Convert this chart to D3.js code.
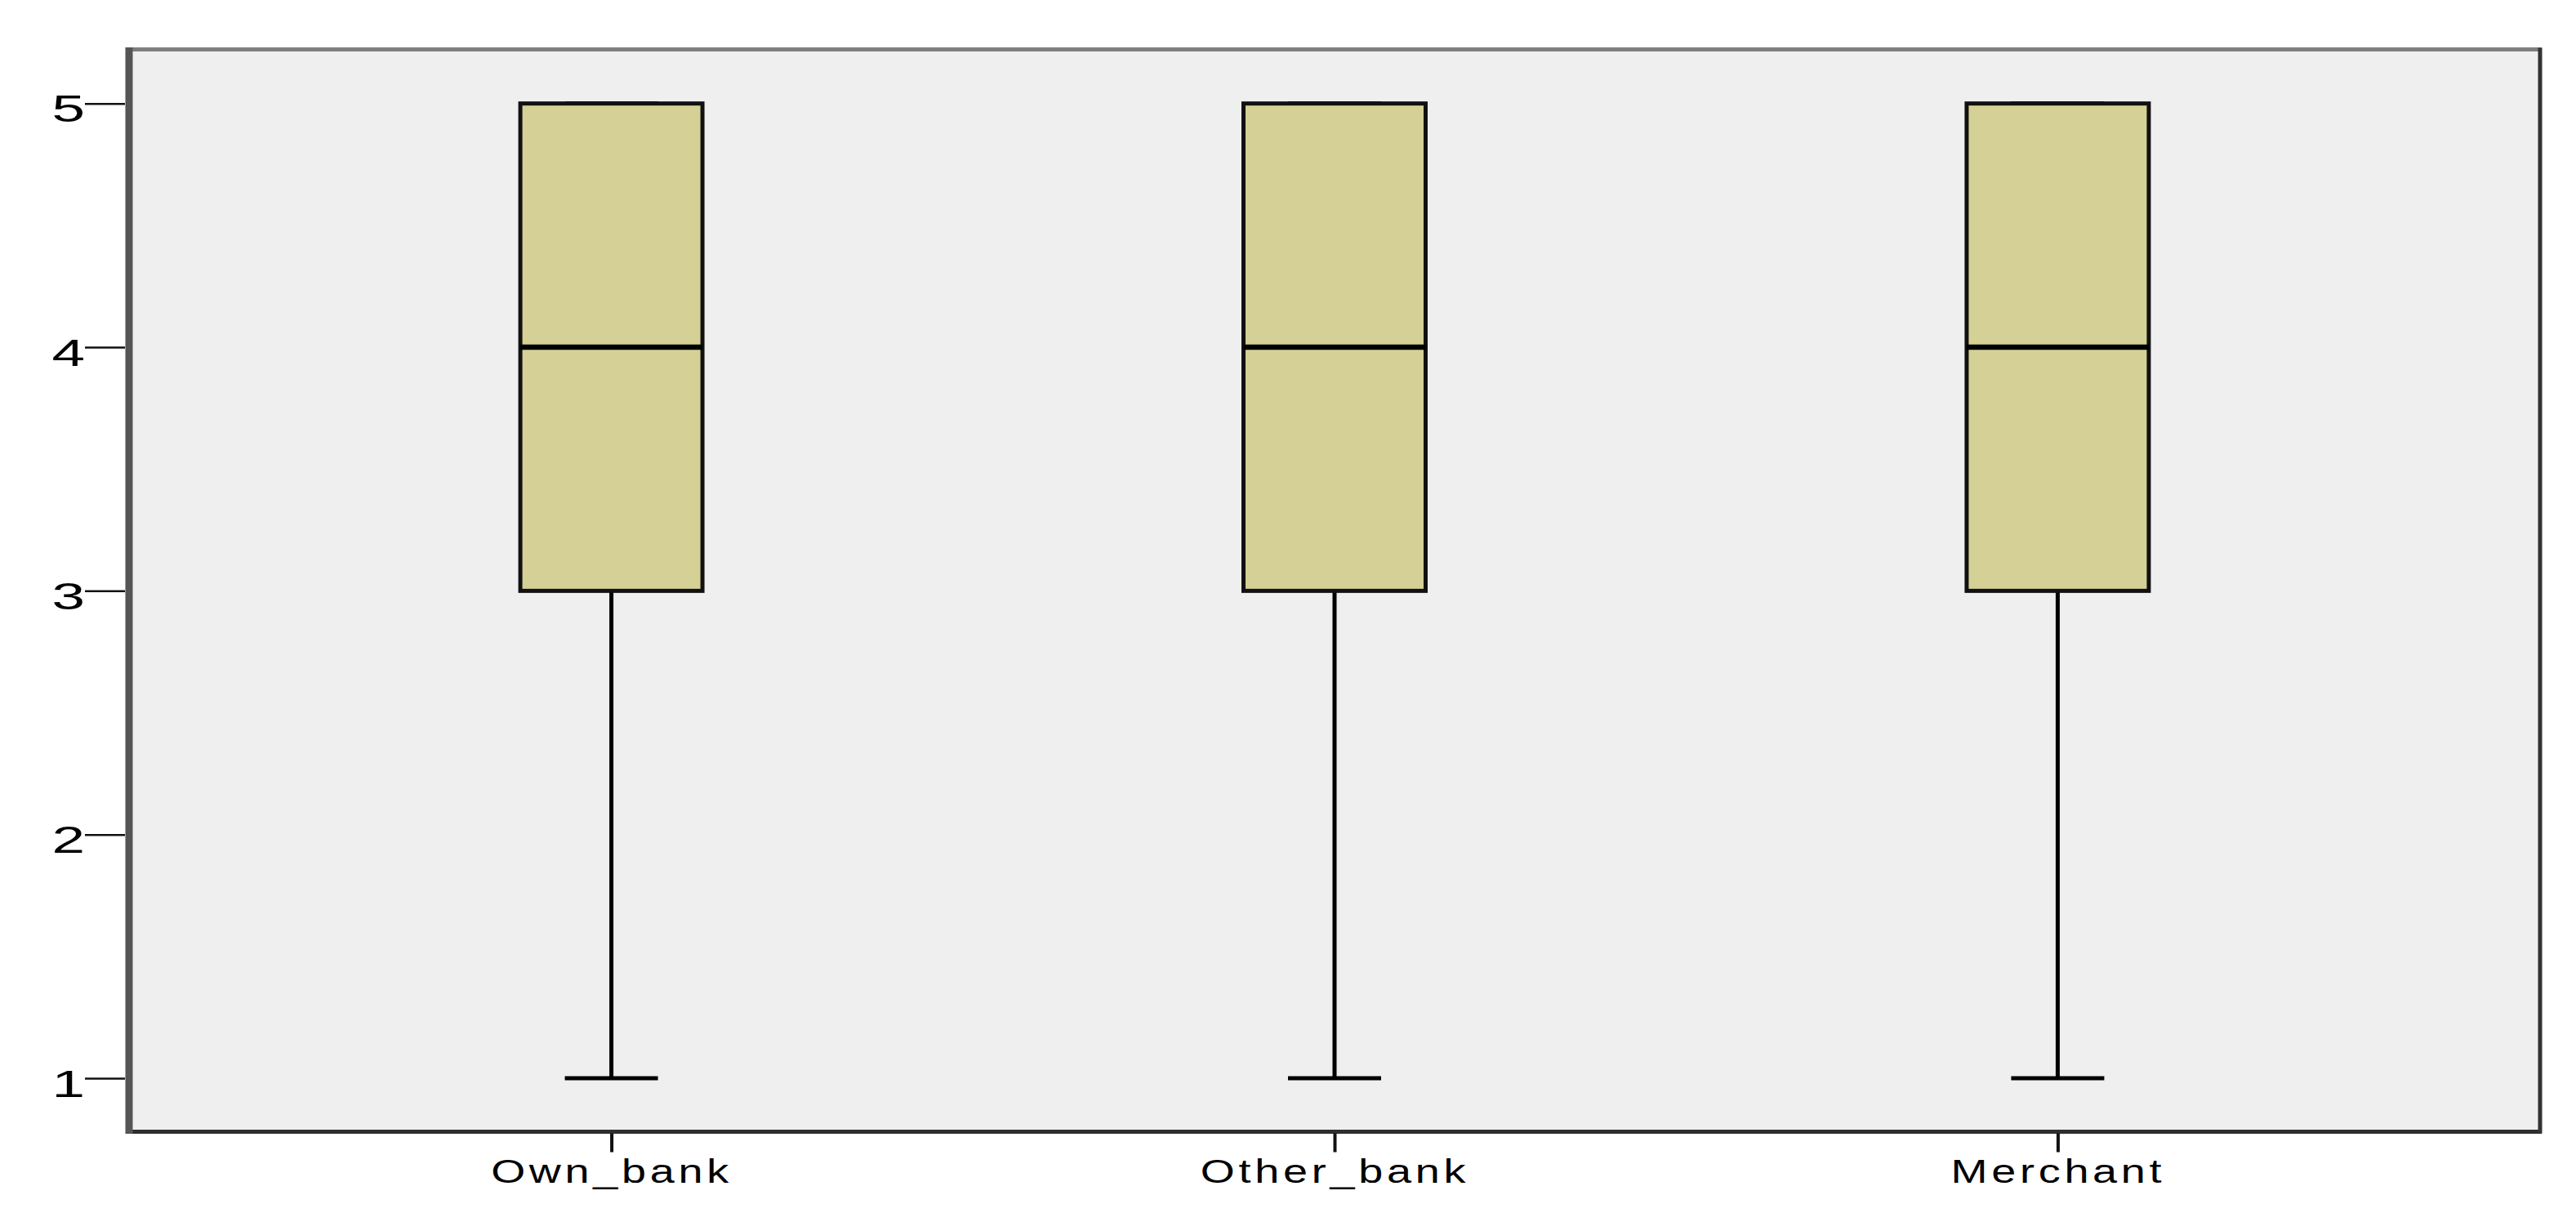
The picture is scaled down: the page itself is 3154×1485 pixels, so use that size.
<!DOCTYPE html>
<html>
<head>
<meta charset="utf-8">
<script src="https://cdn.jsdelivr.net/npm/d3@7"></script>
<style>
  html, body { margin: 0; padding: 0; background: #ffffff; }
  svg { display: block; }
</style>
</head>
<body>
<script>
// ---- Data ----
const categories = ["Own_bank", "Other_bank", "Merchant"];
const whiskerLow = [1, 1, 1];
const q1Values = [3, 3, 3];
const medianValues = [4, 4, 4];
const q3Values = [5, 5, 5];
const whiskerHigh = [5, 5, 5];
const yTickValues = [1, 2, 3, 4, 5];

const W = 3154, H = 1485;
const plot = { left: 158, right: 3110, top: 60.5, bottom: 1385.5 };

const svg = d3.select("body").append("svg").attr("width", W).attr("height", H);

const x = d3.scalePoint().domain(categories).range([plot.left, plot.right]).padding(0.667);
const y = d3.scaleLinear().domain([1, 5]).range([1320, 126.7]);

// plot background
svg.append("rect")
  .attr("x", plot.left).attr("y", plot.top)
  .attr("width", plot.right - plot.left).attr("height", plot.bottom - plot.top)
  .attr("fill", "#efefef");

const boxW = 223, capW = 114;
const boxes = categories.map((c, i) => ({
  cat: c, lo: whiskerLow[i], q1: q1Values[i], med: medianValues[i], q3: q3Values[i], hi: whiskerHigh[i]
}));

const g = svg.append("g");
const bg = g.selectAll("g.box").data(boxes).join("g").attr("class", "box");

// lower whisker
bg.append("line")
  .attr("x1", d => x(d.cat)).attr("x2", d => x(d.cat))
  .attr("y1", d => y(d.q1)).attr("y2", d => y(d.lo))
  .attr("stroke", "#000").attr("stroke-width", 5);
// upper whisker
bg.append("line")
  .attr("x1", d => x(d.cat)).attr("x2", d => x(d.cat))
  .attr("y1", d => y(d.q3)).attr("y2", d => y(d.hi))
  .attr("stroke", "#000").attr("stroke-width", 5);
// caps
bg.append("line")
  .attr("x1", d => x(d.cat) - capW / 2).attr("x2", d => x(d.cat) + capW / 2)
  .attr("y1", d => y(d.lo)).attr("y2", d => y(d.lo))
  .attr("stroke", "#000").attr("stroke-width", 5);
bg.append("line")
  .attr("x1", d => x(d.cat) - capW / 2).attr("x2", d => x(d.cat) + capW / 2)
  .attr("y1", d => y(d.hi)).attr("y2", d => y(d.hi))
  .attr("stroke", "#000").attr("stroke-width", 5);
// box
bg.append("rect")
  .attr("x", d => x(d.cat) - boxW / 2).attr("width", boxW)
  .attr("y", d => y(d.q3)).attr("height", d => y(d.q1) - y(d.q3))
  .attr("fill", "#d5d096").attr("stroke", "#111").attr("stroke-width", 5);
// median
bg.append("line")
  .attr("x1", d => x(d.cat) - boxW / 2).attr("x2", d => x(d.cat) + boxW / 2)
  .attr("y1", d => y(d.med)).attr("y2", d => y(d.med))
  .attr("stroke", "#000").attr("stroke-width", 6.5);

// frame
svg.append("line").attr("x1", plot.left).attr("x2", plot.right + 2).attr("y1", plot.top).attr("y2", plot.top)
  .attr("stroke", "#7f7f7f").attr("stroke-width", 5);
svg.append("line").attr("x1", plot.left).attr("x2", plot.right + 2).attr("y1", plot.bottom).attr("y2", plot.bottom)
  .attr("stroke", "#2e2e2e").attr("stroke-width", 5);
svg.append("line").attr("x1", plot.right).attr("x2", plot.right).attr("y1", plot.top - 2).attr("y2", plot.bottom + 2)
  .attr("stroke", "#333").attr("stroke-width", 5);
svg.append("line").attr("x1", plot.left).attr("x2", plot.left).attr("y1", plot.top - 2.5).attr("y2", plot.bottom + 2.5)
  .attr("stroke", "#555").attr("stroke-width", 9);

// y axis
const ySX = 1.55, yTick = 54;
const yAxis = svg.append("g").attr("transform", `translate(${plot.left - 5},0)`)
  .call(d3.axisLeft(y).tickValues(yTickValues).tickFormat(d3.format("d")).tickSize(yTick - 5).tickPadding(0));
yAxis.select(".domain").remove();
yAxis.selectAll(".tick line").attr("stroke", "#111").attr("stroke-width", 2.5);
yAxis.selectAll(".tick text")
  .attr("font-family", "Liberation Sans, Arial, sans-serif")
  .attr("font-size", 47).attr("fill", "#000")
  .attr("x", -(yTick - 5) / ySX).attr("dy", "0.47em")
  .attr("transform", `scale(${ySX},1)`);

// x axis
const xSX = 1.35;
const xAxis = svg.append("g").attr("transform", `translate(0,${plot.bottom + 2})`)
  .call(d3.axisBottom(x).tickSize(23).tickPadding(9));
xAxis.select(".domain").remove();
xAxis.selectAll(".tick line").attr("stroke", "#111").attr("stroke-width", 4);
xAxis.selectAll(".tick text")
  .attr("font-family", "Liberation Sans, Arial, sans-serif")
  .attr("font-size", 40).attr("fill", "#000")
  .attr("letter-spacing", 3.5)
  .attr("transform", `scale(${xSX},1)`);
</script>
</body>
</html>
